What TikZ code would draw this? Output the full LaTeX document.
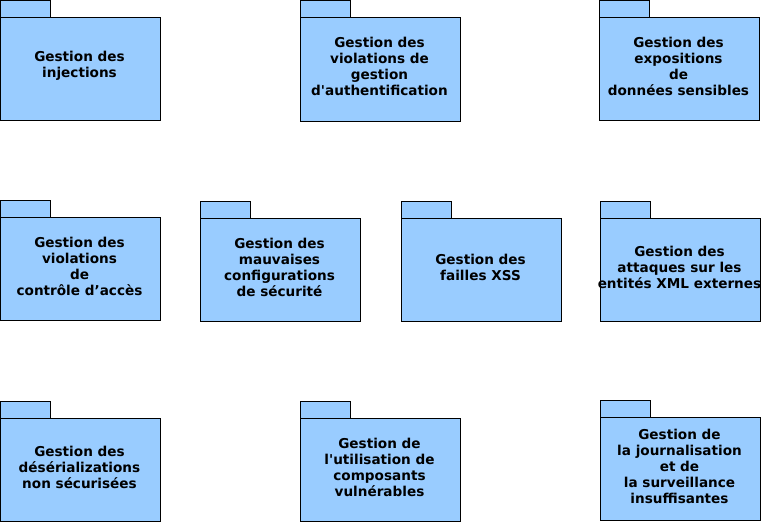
\documentclass[tikz,border=0pt]{standalone}
\usepackage{fontspec}
\setmainfont{DejaVu Sans}[Ligatures=TeXOff]
\definecolor{pkgfill}{HTML}{99CCFF}
\tikzset{
  pkgline/.style={draw=black, fill=pkgfill, line width=0.8pt},
  pkgtext/.style={align=center, font=\bfseries\fontsize{13.6}{16}\selectfont, inner sep=0pt}
}
% #1 name, #2 left x, #3 top y, #4 width, #5 tab height, #6 body height, #7 text
\newcommand{\umlpkg}[7]{%
  \path[pkgline] (#2,#3) rectangle ++(50,#5);
  \path[pkgline] (#2,#3+#5) rectangle ++(#4,#6);
  \node[pkgtext] (#1) at (#2+#4/2-1, #3+#5+#6/2-3) {#7};
}
\begin{document}
\begin{tikzpicture}[x=1pt,y=-1pt]
\useasboundingbox (0,0) rectangle (764,522);
\umlpkg{inj}{0.5}{0.5}{160}{17}{103}{Gestion des\\injections}
\umlpkg{auth}{300.5}{0.5}{160}{17}{104}{Gestion des\\violations de\\gestion\\d'authentification}
\umlpkg{expo}{599.5}{0.5}{160}{17}{103}{Gestion des\\expositions\\de\\données sensibles}
\umlpkg{acces}{0.5}{200.5}{160}{17}{103}{Gestion des\\violations\\de\\contrôle d’accès}
\umlpkg{config}{200.5}{201.5}{160}{17}{103}{Gestion des\\mauvaises\\configurations\\de sécurité}
\umlpkg{xss}{401.5}{201.5}{160}{17}{103}{Gestion des\\failles XSS}
\umlpkg{xml}{600.5}{201.5}{160}{17}{103}{Gestion des\\attaques sur les\\entités XML externes}
\umlpkg{deser}{0.5}{401.5}{160}{17}{103}{Gestion des\\désérializations\\non sécurisées}
\umlpkg{compo}{300.5}{401.5}{160}{17}{103}{Gestion de\\l'utilisation de\\composants\\vulnérables}
\umlpkg{journ}{600.5}{400.5}{160}{17}{103}{Gestion de\\la journalisation\\et de\\la surveillance\\insuffisantes}
\end{tikzpicture}
\end{document}
